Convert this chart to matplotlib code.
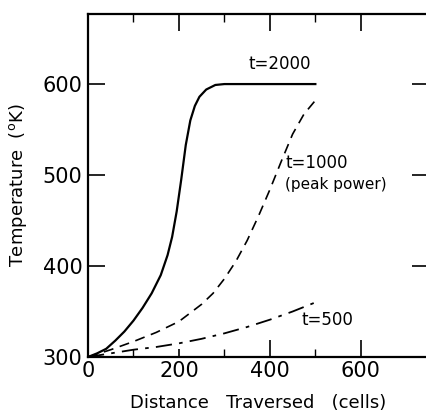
import numpy as np
import matplotlib
matplotlib.use("Agg")
import matplotlib.pyplot as plt

# curves (distance in cells, temperature in K)
x_2000 = [0, 20, 40, 60, 80, 100, 120, 140, 160, 175, 185, 195, 205, 215,
          225, 235, 245, 260, 280, 300, 500]
t_2000 = [300, 304, 309, 318, 328, 340, 354, 370, 390, 412, 432, 460, 495, 533,
          560, 576, 586, 594, 599, 600, 600]

x_1000 = [0, 50, 100, 150, 200, 250, 275, 300, 325, 350, 375, 400, 425, 450,
          475, 500]
t_1000 = [300, 308, 317, 327, 339, 358, 370, 386, 405, 428, 455, 484, 515, 545,
          567, 582]

x_500 = [0, 50, 100, 150, 200, 250, 300, 350, 400, 450, 500]
t_500 = [300, 304, 308, 311, 315, 320, 326, 333, 341, 350, 360]

x_ticks = [0, 200, 400, 600]
y_ticks = [300, 400, 500, 600]

plt.rcParams['font.family'] = ['DejaVu Sans']

fig = plt.figure(figsize=(4.26, 4.17), dpi=100)
ax = fig.add_axes([0.2066, 0.1439, 0.8005, 0.8225])

ax.plot(x_2000, t_2000, color='black', lw=1.6)
ax.plot(x_1000, t_1000, color='black', lw=1.2, dashes=(6, 4))
ax.plot(x_500, t_500, color='black', lw=1.3, dashes=(9, 4, 2, 4))

ax.set_xlim(0, 750)
ax.set_ylim(300, 677)

ax.set_xticks(x_ticks)
ax.set_xticks([100, 300, 500], minor=True)
ax.set_yticks(y_ticks)

ax.tick_params(which='major', direction='in', length=12, width=1.2,
               top=True, right=True, labelsize=15, pad=4)
ax.tick_params(which='minor', direction='in', length=6, width=1.0,
               top=True, bottom=True)
ax.tick_params(axis='x', pad=3)
# the bottom tick at 200 is a short one in the original
ax.xaxis.get_major_ticks()[1].tick1line.set_markersize(6)
for s in ax.spines.values():
    s.set_linewidth(1.6)

ax.text(422, 612, "t=2000", fontsize=12, ha='center', va='bottom')
ax.text(435, 513, "t=1000", fontsize=12, ha='left', va='center')
ax.text(433, 490, "(peak power)", fontsize=11, ha='left', va='center')
ax.text(469, 341, "t=500", fontsize=12, ha='left', va='center')

ax.set_xlabel("Distance   Traversed   (cells)", fontsize=13, labelpad=9)
ax.set_ylabel("Temperature  ($^{\\rm o}$K)", fontsize=13, labelpad=10)

fig.savefig("out.png", dpi=100)
